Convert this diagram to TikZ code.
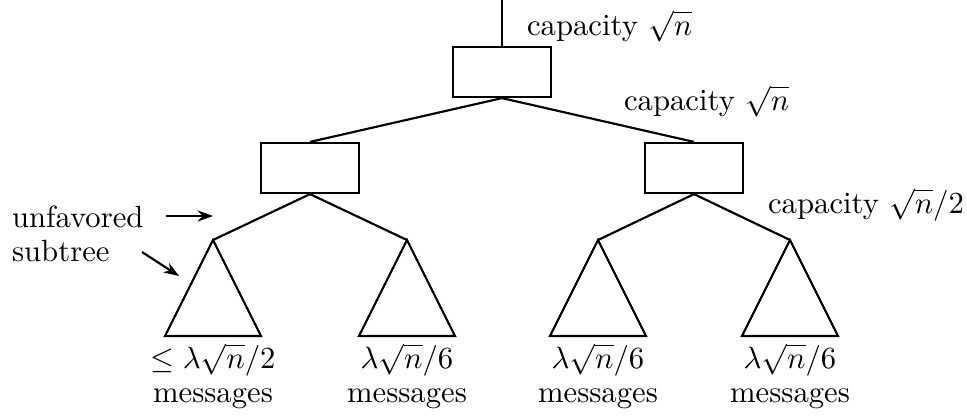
\documentclass[tikz,border=0pt]{standalone}
\usetikzlibrary{arrows.meta}
\begin{document}
\begin{tikzpicture}[x=0.3257pt,y=-0.3257pt,
  every path/.style={line width=0.7pt},
  boxnode/.style={draw,line width=0.7pt,minimum width=31.9pt,minimum height=16.3pt,inner sep=0pt},
  lbl/.style={anchor=base west,inner sep=0pt},
  btm/.style={anchor=base,inner sep=0pt},
  arr/.style={-{Stealth[length=5pt,width=3.6pt]},line width=0.7pt}]
\useasboundingbox (0,0) rectangle (967,419);
% boxes
\node[boxnode] (t) at (502,72) {};
\node[boxnode] (l) at (310,168) {};
\node[boxnode] (r) at (694,168) {};
\coordinate (top) at (502,0);
% triangle apexes
\coordinate (a1) at (213,240);
\coordinate (a2) at (407,240);
\coordinate (a3) at (598,240);
\coordinate (a4) at (790,240);
% connectors
\draw (top) -- (t.north);
\draw (t.south) -- (l.north);
\draw (t.south) -- (r.north);
\draw (l.south) -- (a1);
\draw (l.south) -- (a2);
\draw (r.south) -- (a3);
\draw (r.south) -- (a4);
% triangles
\foreach \a in {a1,a2,a3,a4}{
  \draw[line join=miter] (\a) -- ++(-48,96) -- ++(96,0) -- cycle;
}
% labels
\node[lbl] (c1) at (526,35) {capacity $\sqrt{n}$};
\node[lbl] (c2) at (623,110) {capacity $\sqrt{n}$};
\node[lbl] (c3) at (767,213) {capacity $\sqrt{n}/2$};
\node[lbl] (u1) at (11,227) {unfavored};
\node[lbl] (u2) at (11,261) {subtree};
\coordinate (ua) at (166,216);
\coordinate (ub) at (213,216);
\coordinate (sa) at (142,252);
\coordinate (sb) at (179,276);
\draw[arr] (ua) -- (ub);
\draw[arr] (sa) -- (sb);
% bottom labels
\node[btm] (m1) at (213,368) {$\leq \lambda\sqrt{n}/2$};
\node[btm] (m2) at (407,368) {$\lambda\sqrt{n}/6$};
\node[btm] (m3) at (598,368) {$\lambda\sqrt{n}/6$};
\node[btm] (m4) at (790,368) {$\lambda\sqrt{n}/6$};
\node[btm] (n1) at (213,402) {messages};
\node[btm] (n2) at (407,402) {messages};
\node[btm] (n3) at (598,402) {messages};
\node[btm] (n4) at (790,402) {messages};
\end{tikzpicture}
\end{document}
